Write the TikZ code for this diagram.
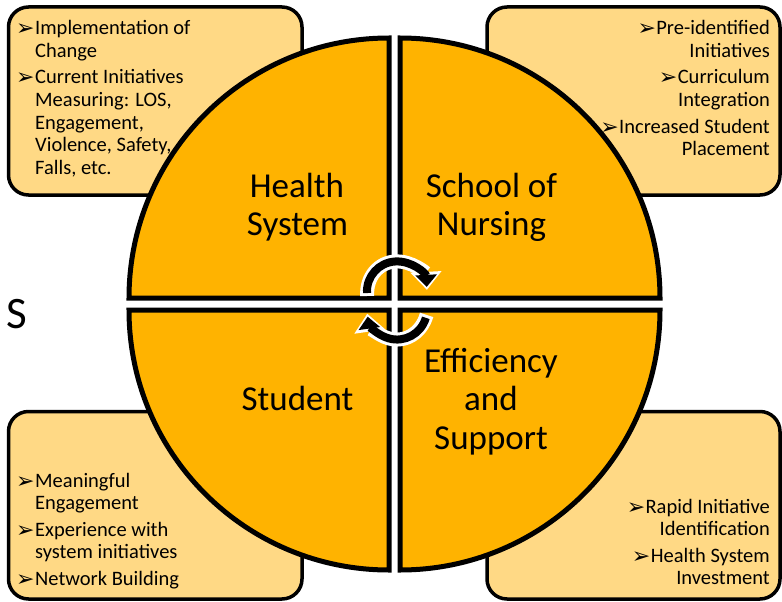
\documentclass[tikz,border=0pt]{standalone}
\usepackage{fontspec}
\setmainfont{Carlito}
\newfontfamily\dejavu{DejaVu Sans}
\usetikzlibrary{arrows.meta}
\definecolor{quadfill}{HTML}{FFB300}
\definecolor{boxfill}{HTML}{FFD985}
\newcommand{\bul}{{\dejavu\fontsize{22}{22}\selectfont\raisebox{-1pt}{➢}}}
\begin{document}
\begin{tikzpicture}[x=1pt,y=-1pt,
  infobox/.style={draw=black, line width=3.5pt, fill=boxfill, rounded corners=20pt},
  quad/.style={draw=black, line width=5pt, fill=quadfill, line join=miter},
  item/.style={inner sep=0pt, font=\fontsize{20.5}{22.5}\selectfont},
  bullet/.style={inner sep=0pt},
  big/.style={inner sep=0pt, font=\fontsize{35}{38.5}\selectfont},
  cyclewhite/.style={draw=white, line width=14pt, shorten <=-3pt, -{Triangle[width=30pt,length=18pt]}},
  cycleblack/.style={draw=black, line width=8pt, shorten >=3pt, -{Triangle[width=21pt,length=12pt]}}
]
\useasboundingbox (0,0) rectangle (782,602);

% info boxes
\draw[infobox] (8.5,7) rectangle (302,195);
\draw[infobox] (487,7) rectangle (780,195);
\draw[infobox] (8.5,411.5) rectangle (302,599);
\draw[infobox] (487,411.5) rectangle (780,599);

% quadrants
\draw[quad] (389,298) -- (389,38) arc[start angle=90, end angle=180, radius=260pt] -- cycle;
\draw[quad] (400,298) -- (660,298) arc[start angle=0, end angle=90, radius=260pt] -- cycle;
\draw[quad] (389,310) -- (129,310) arc[start angle=180, end angle=270, radius=260pt] -- cycle;
\draw[quad] (400,310) -- (400,570) arc[start angle=270, end angle=360, radius=260pt] -- cycle;

% quadrant labels
\node[big, anchor=base] (hs1) at (297,197) {Health};
\node[big, anchor=base] (hs2) at (297.5,235) {System};
\node[big, anchor=base] (sn1) at (491.5,197) {School of};
\node[big, anchor=base] (sn2) at (491.5,235) {Nursing};
\node[big, anchor=base] (st1) at (297.5,410) {Student};
\node[big, anchor=base] (es1) at (491,372) {Efficiency};
\node[big, anchor=base] (es2) at (491,410.5) {and};
\node[big, anchor=base] (es3) at (491,449) {Support};

% left letter
\node[inner sep=0pt, anchor=base west, font=\fontsize{45}{45}\selectfont] (sletter) at (6,328) {S};

% top-left box
\node[bullet, anchor=base west] (tlb1) at (16,35) {\bul};
\node[item, anchor=base west] (tl1) at (35,35) {Implementation of};
\node[item, anchor=base west] (tl2) at (35,57.5) {Change};
\node[bullet, anchor=base west] (tlb2) at (16,84) {\bul};
\node[item, anchor=base west] (tl3) at (35,84) {Current Initiatives};
\node[item, anchor=base west] (tl4) at (35,106.5) {Measuring: LOS,};
\node[item, anchor=base west] (tl5) at (35,129) {Engagement,};
\node[item, anchor=base west] (tl6) at (35,151.5) {Violence, Safety,};
\node[item, anchor=base west] (tl7) at (35,174) {Falls, etc.};

% top-right box
\node[item, anchor=base east] (tr1) at (770,35) {Pre-identified};
\node[bullet, anchor=base east] (trb1) at (tr1.base west) {\bul};
\node[item, anchor=base east] (tr2) at (770,57.5) {Initiatives};
\node[item, anchor=base east] (tr3) at (770,84) {Curriculum};
\node[bullet, anchor=base east] (trb2) at (tr3.base west) {\bul};
\node[item, anchor=base east] (tr4) at (770,106.5) {Integration};
\node[item, anchor=base east] (tr5) at (770,133) {Increased Student};
\node[bullet, anchor=base east] (trb3) at (tr5.base west) {\bul};
\node[item, anchor=base east] (tr6) at (770,155.5) {Placement};

% bottom-left box
\node[bullet, anchor=base west] (blb1) at (16,487) {\bul};
\node[item, anchor=base west] (bl1) at (35,487) {Meaningful};
\node[item, anchor=base west] (bl2) at (35,509.5) {Engagement};
\node[bullet, anchor=base west] (blb2) at (16,536) {\bul};
\node[item, anchor=base west] (bl3) at (35,536) {Experience with};
\node[item, anchor=base west] (bl4) at (35,558.5) {system initiatives};
\node[bullet, anchor=base west] (blb3) at (16,585) {\bul};
\node[item, anchor=base west] (bl5) at (35,585) {Network Building};

% bottom-right box
\node[item, anchor=base east] (br1) at (770,513) {Rapid Initiative};
\node[bullet, anchor=base east] (brb1) at (br1.base west) {\bul};
\node[item, anchor=base east] (br2) at (770,535.5) {Identification};
\node[item, anchor=base east] (br3) at (770,562) {Health System};
\node[bullet, anchor=base east] (brb2) at (br3.base west) {\bul};
\node[item, anchor=base east] (br4) at (770,584.5) {Investment};

% cycle arrows
\coordinate (topstart) at (367,293);
\coordinate (botstart) at (425.8,317.8);
\draw[cyclewhite] (topstart) arc[start angle=183, end angle=3, radius=30pt];
\draw[cyclewhite] (botstart) arc[start angle=-16, end angle=-172, radius=30pt];
\draw[cycleblack] (topstart) arc[start angle=183, end angle=3, radius=30pt];
\draw[cycleblack] (botstart) arc[start angle=-16, end angle=-172, radius=30pt];
\end{tikzpicture}
\end{document}
